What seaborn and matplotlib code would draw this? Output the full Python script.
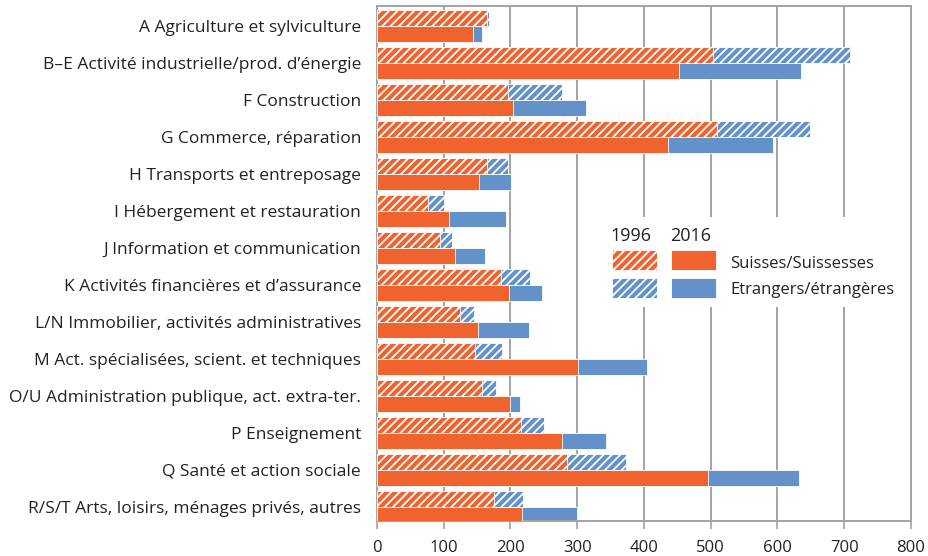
import numpy as np
import pandas as pd
import matplotlib.pyplot as plt
import matplotlib.patches as mpatches
import seaborn as sns

# Données (milliers de personnes actives occupées)
categories = [
    'A Agriculture et sylviculture',
    'B–E Activité industrielle/prod. d’énergie',
    'F Construction',
    'G Commerce, réparation',
    'H Transports et entreposage',
    'I Hébergement et restauration',
    'J Information et communication',
    'K Activités financières et d’assurance',
    'L/N Immobilier, activités administratives',
    'M Act. spécialisées, scient. et techniques',
    'O/U Administration publique, act. extra-ter.',
    'P Enseignement',
    'Q Santé et action sociale',
    'R/S/T Arts, loisirs, ménages privés, autres',
]
suisses_1996 = [165, 504, 197, 510, 165, 76, 94, 186, 124, 147, 157, 216, 285, 175]
total_1996 = [168, 709, 277, 649, 196, 101, 113, 229, 145, 188, 178, 250, 373, 218]
suisses_2016 = [144, 453, 204, 436, 153, 108, 117, 198, 151, 301, 199, 277, 496, 217]
total_2016 = [157, 635, 313, 593, 201, 193, 162, 247, 227, 404, 215, 343, 632, 300]
annees = ['1996', '2016']

orange = '#F0632F'
bleu = '#6391CA'
gris = '#A3A3A3'

df_total = pd.DataFrame({
    'cat': categories * 2,
    'val': total_1996 + total_2016,
    'annee': ['1996'] * 14 + ['2016'] * 14,
})
df_ch = pd.DataFrame({
    'cat': categories * 2,
    'val': suisses_1996 + suisses_2016,
    'annee': ['1996'] * 14 + ['2016'] * 14,
})

sns.set_style('white')
plt.rcParams['font.family'] = ['Open Sans', 'DejaVu Sans']
plt.rcParams['hatch.linewidth'] = 1.3

fig = plt.figure(figsize=(9.29, 5.56), dpi=100)
ax = fig.add_axes([0.4058, 0.0635, 0.5748, 0.9255])

# barres totales (étrangers) puis suisses par-dessus
sns.barplot(data=df_total, y='cat', x='val', hue='annee', hue_order=annees,
            palette={'1996': bleu, '2016': bleu}, orient='h', width=0.86,
            saturation=1, dodge=True, legend=False, ax=ax, zorder=2)
sns.barplot(data=df_ch, y='cat', x='val', hue='annee', hue_order=annees,
            palette={'1996': orange, '2016': orange}, orient='h', width=0.86,
            saturation=1, dodge=True, legend=False, ax=ax, zorder=3)

for i, cont in enumerate(ax.containers):
    for p in cont:
        p.set_edgecolor('white')
        p.set_linewidth(0.6)
        if i % 2 == 0:
            p.set_hatch('////')

ax.set_xlim(0, 800)
ax.set_ylim(13.38, -0.53)
ax.set_xticks(np.arange(0, 801, 100))
ax.set_xlabel('')
ax.set_ylabel('')
ax.set_axisbelow(True)
ax.grid(axis='x', color=gris, linewidth=1.4)
ax.grid(axis='y', visible=False)
for s in ax.spines.values():
    s.set_color(gris)
    s.set_linewidth(1.4)
ax.tick_params(axis='x', bottom=True, length=6, width=1.2, color=gris,
               labelsize=12, labelcolor='#222222', pad=8)
ax.tick_params(axis='y', left=False, labelsize=12.5, labelcolor='#222222', pad=8)

# légende manuelle
ax.add_patch(mpatches.Rectangle((0.405, 0.415), 0.555, 0.175, transform=ax.transAxes,
                                facecolor='white', edgecolor='none', zorder=4))
def fx(px):
    return (px - 377.3) / (911 - 377.3)
def fy(py):
    return (520.7 - py) / (520.7 - 6)
w = (657 - 612) / (911 - 377.3)
h = 20 / (520.7 - 6)
for col, (x0, hatch) in enumerate([(612, '////'), (671, None)]):
    for c, y0 in [(orange, 270), (bleu, 298)]:
        ax.add_patch(mpatches.Rectangle((fx(x0), fy(y0)), w, h, transform=ax.transAxes,
                                        facecolor=c, edgecolor='white', linewidth=0.6,
                                        hatch=hatch, zorder=5))
ax.text(fx(611), fy(236), '1996', transform=ax.transAxes, fontsize=13,
        va='center', ha='left', color='#222222', zorder=6)
ax.text(fx(670), fy(236), '2016', transform=ax.transAxes, fontsize=13,
        va='center', ha='left', color='#222222', zorder=6)
ax.text(fx(730), fy(264), 'Suisses/Suissesses', transform=ax.transAxes, fontsize=12,
        va='center', ha='left', color='#222222', zorder=6)
ax.text(fx(730), fy(290), 'Etrangers/étrangères', transform=ax.transAxes, fontsize=12,
        va='center', ha='left', color='#222222', zorder=6)

fig.savefig('out.png', dpi=100)
